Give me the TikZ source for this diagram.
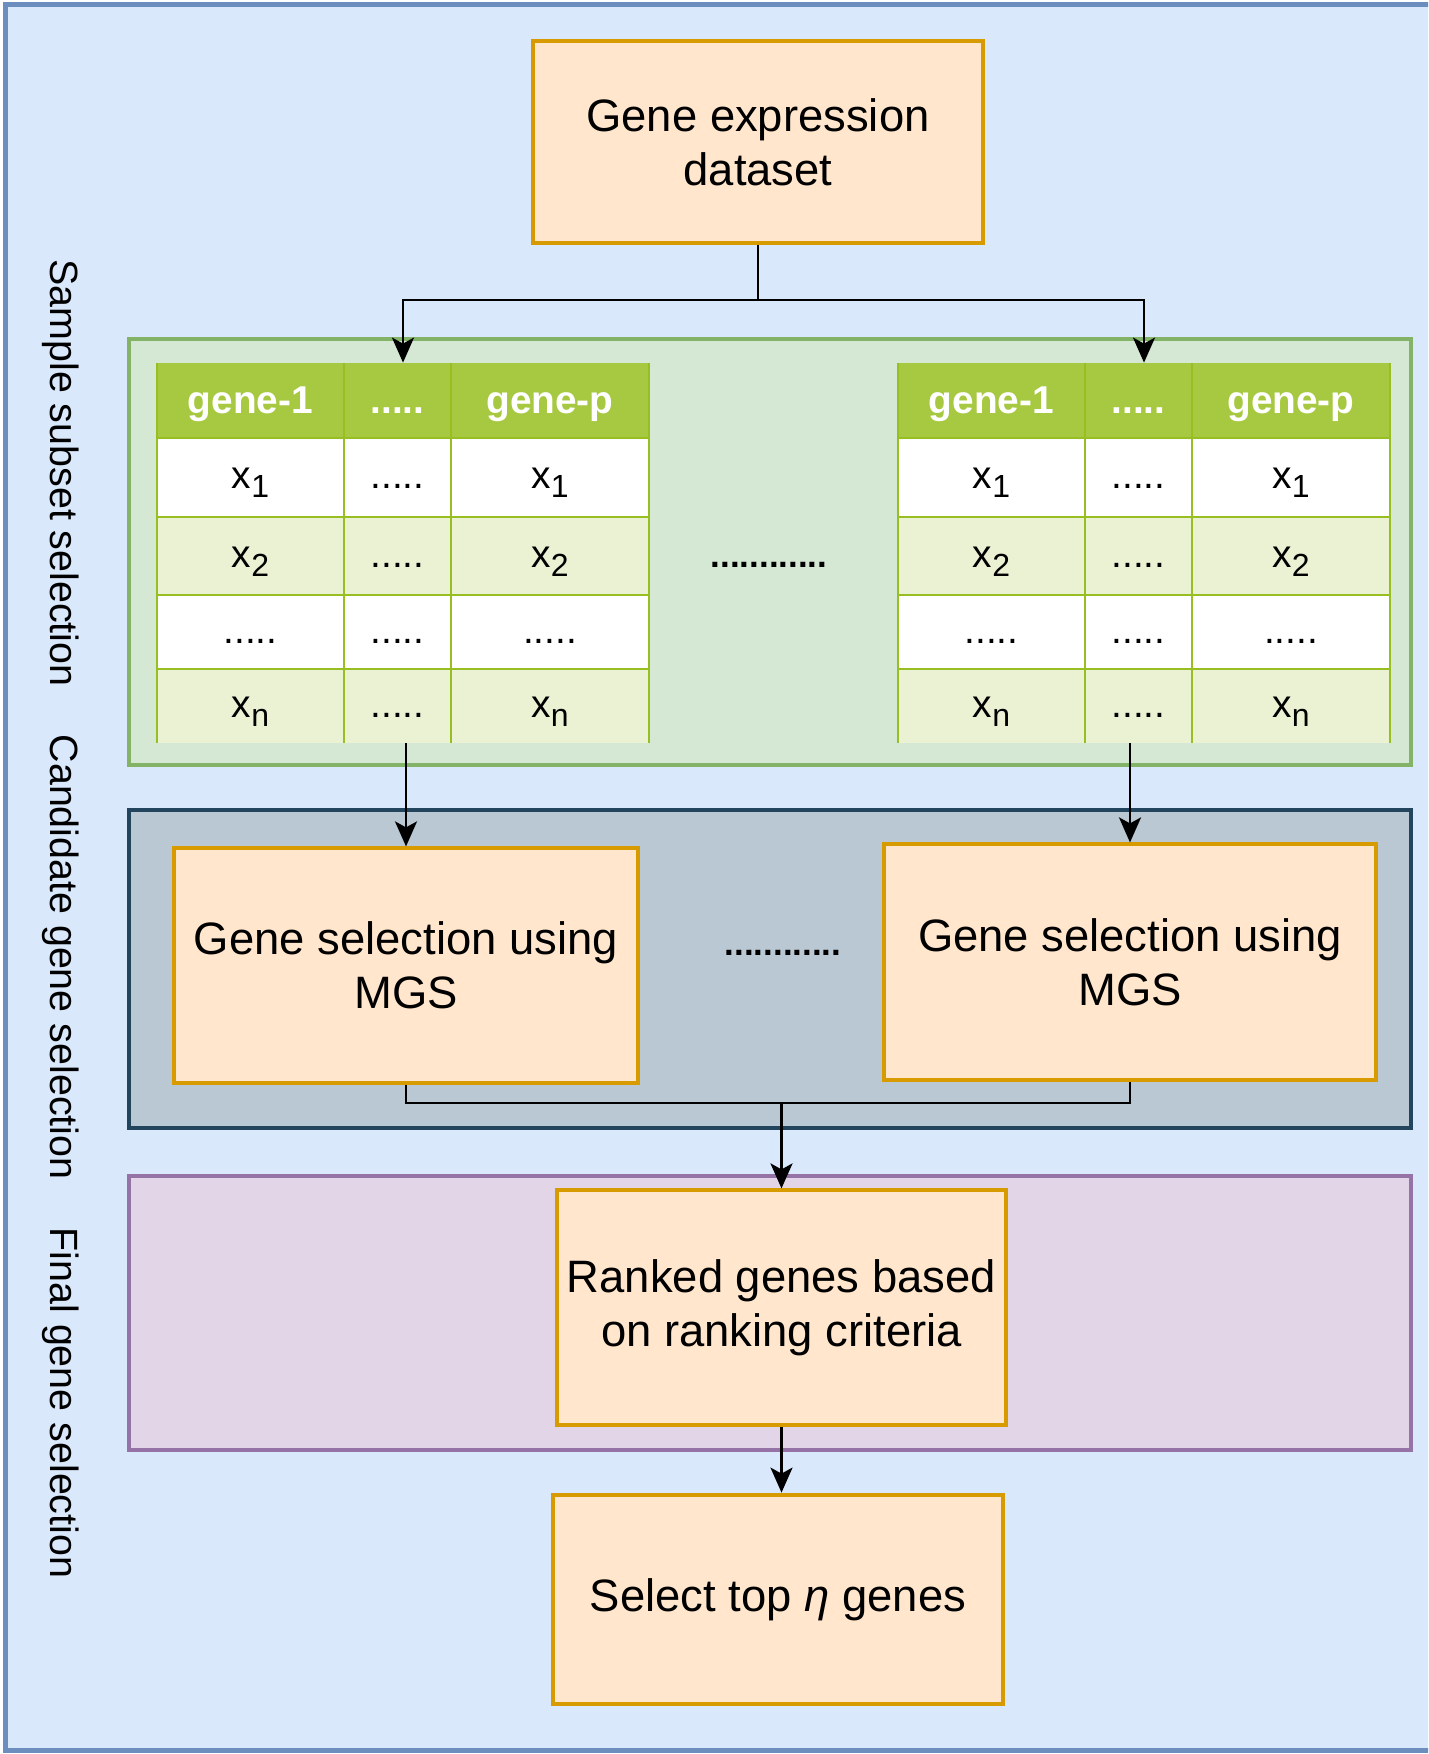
\documentclass[tikz,border=0pt]{standalone}
\usepackage{fontspec}
\setmainfont{Liberation Sans}
\usetikzlibrary{arrows.meta,fit}
\definecolor{bgblue}{HTML}{DAE8FC}
\definecolor{bgblueb}{HTML}{6C8EBF}
\definecolor{orfill}{HTML}{FFE6CC}
\definecolor{ordraw}{HTML}{D79B00}
\definecolor{grfill}{HTML}{D5E8D4}
\definecolor{grdraw}{HTML}{82B366}
\definecolor{hdrfill}{HTML}{A7C942}
\definecolor{tline}{HTML}{98BF21}
\definecolor{altrow}{HTML}{EAF2D3}
\definecolor{dkfill}{HTML}{BAC8D3}
\definecolor{dkdraw}{HTML}{23445D}
\definecolor{pufill}{HTML}{E1D5E7}
\definecolor{pudraw}{HTML}{9673A6}
\newcommand\fsbox{\fontsize{22.7pt}{27pt}\selectfont}
\newcommand\fshead{\fontsize{19.4pt}{23pt}\selectfont\bfseries}
\newcommand\fscell{\fontsize{19.4pt}{23pt}\selectfont}
\newcommand\fsside{\fontsize{19.7pt}{24pt}\selectfont}
\newcommand\fsdots{\fontsize{17.5pt}{20pt}\selectfont\bfseries}
\newcommand\xsub[1]{x\raisebox{-4.5pt}{\fontsize{16pt}{16pt}\selectfont #1}}
\begin{document}
\begin{tikzpicture}[x=0.5pt,y=-0.5pt,
  obox/.style={draw=ordraw, fill=orfill, line width=1.6pt, align=center, inner sep=0pt, font=\fsbox},
  cont/.style={line width=2pt, inner sep=0pt},
  arr/.style={line width=1.2pt, -{Stealth[length=12.5pt,width=11pt,inset=3pt]}},
  conn/.style={line width=1.2pt},
  tgrid/.style={draw=tline, line width=1pt},
  htext/.style={font=\fshead, text=white, text height=16pt, text depth=3pt, inner sep=0pt},
  ctext/.style={font=\fscell, text height=14pt, text depth=3pt, inner sep=0pt},
  sidelab/.style={rotate=-90, font=\fsside, inner sep=0pt},
  middots/.style={font=\fsdots, inner sep=0pt}
]
\useasboundingbox (0,0) rectangle (1428,1754);
\clip (0,0) rectangle (1428,1754);
\fill[bgblue] (5,5) rectangle (1460,1750);
\draw[draw=bgblueb, line width=2.5pt] (1460,5) -- (5,5) -- (5,1750) -- (1460,1750);

% side labels
\node[sidelab] (lab1) at (61,473) {Sample subset selection};
\node[sidelab] (lab2) at (61,957) {Candidate gene selection};
\node[sidelab] (lab3) at (61,1403) {Final gene selection};

% containers
\node[cont, fill=grfill, draw=grdraw, minimum width=641pt, minimum height=213pt] (green) at (770,552) {};
\node[cont, fill=dkfill, draw=dkdraw, minimum width=641pt, minimum height=159pt] (dark) at (770,969) {};
\node[cont, fill=pufill, draw=pudraw, minimum width=641pt, minimum height=137pt] (purple) at (770,1313) {};

% top box
\node[obox, minimum width=225pt, minimum height=101pt] (ge) at (758,142) {Gene expression\\dataset};

% tables
\foreach \P/\dx in {L/0,R/741}{
  \node[fit={(157+\dx,363) (649+\dx,743)}, inner sep=0pt] (tab\P) {};
  \fill[hdrfill] (157+\dx,363) rectangle (649+\dx,438);
  \fill[white] (157+\dx,438) rectangle (649+\dx,517);
  \fill[altrow] (157+\dx,517) rectangle (649+\dx,595);
  \fill[white] (157+\dx,595) rectangle (649+\dx,669);
  \fill[altrow] (157+\dx,669) rectangle (649+\dx,743);
  \foreach \xx in {157,344,451,649} \draw[tgrid] (\xx+\dx,363) -- (\xx+\dx,743);
  \foreach \yy in {438,517,595,669} \draw[tgrid] (157+\dx,\yy) -- (649+\dx,\yy);
  \node[htext] (\P-h1) at (250.5+\dx,400.5) {gene-1};
  \node[htext] (\P-h2) at (397.5+\dx,400.5) {.....};
  \node[htext] (\P-h3) at (550+\dx,400.5) {gene-p};
  \foreach \r/\yc/\t in {1/477.5/1, 2/556/2, 4/706/n}{
    \node[ctext] (\P-\r-1) at (250.5+\dx,\yc) {\xsub{\t}};
    \node[ctext] (\P-\r-2) at (397.5+\dx,\yc) {.....};
    \node[ctext] (\P-\r-3) at (550+\dx,\yc) {\xsub{\t}};
  }
  \node[ctext] (\P-3-1) at (250.5+\dx,632) {.....};
  \node[ctext] (\P-3-2) at (397.5+\dx,632) {.....};
  \node[ctext] (\P-3-3) at (550+\dx,632) {.....};
}
\node[middots] (mid1) at (769,565) {............};

% MGS boxes
\node[obox, minimum width=232pt, minimum height=117.5pt] (mgsL) at (406,965.5) {Gene selection using\\MGS};
\node[obox, minimum width=246pt, minimum height=118pt] (mgsR) at (1130,962) {Gene selection using\\MGS};
\node[middots] (mid2) at (783,953) {............};

% ranked / select
\node[obox, minimum width=224.5pt, minimum height=117.5pt] (ranked) at (781.5,1307.5) {Ranked genes based\\on ranking criteria};
\node[obox, line width=2.4pt, minimum width=225pt, minimum height=104.5pt] (select) at (778,1599.5) {Select top \textit{η} genes};

% connectors
\coordinate (split) at (ge.south |- 0,300);
\draw[conn] (ge.south) -- (split);
\draw[arr] (split) -| (tabL.north);
\draw[arr] (split) -| (tabR.north);
\draw[arr] (tabL.south -| mgsL.north) -- (mgsL.north);
\draw[arr] (tabR.south -| mgsR.north) -- (mgsR.north);
\coordinate (merge) at (ranked.north |- 0,1103);
\draw[conn] (mgsL.south) |- (merge) -| (mgsR.south);
\draw[arr] (merge) -- (ranked.north);
\draw[arr] (ranked.south) -- (ranked.south |- select.north);
\end{tikzpicture}
\end{document}
